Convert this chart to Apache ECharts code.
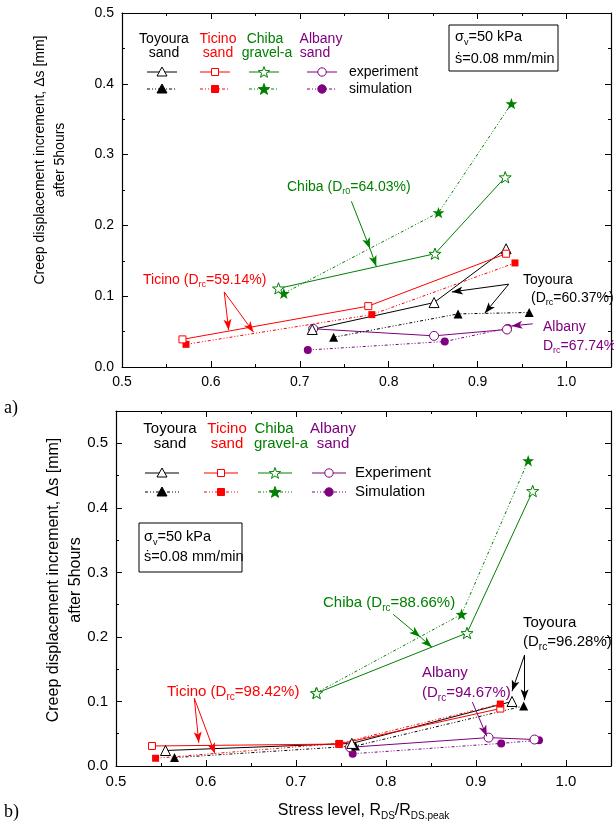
<!DOCTYPE html>
<html>
<head>
<meta charset="utf-8">
<script src="https://cdn.jsdelivr.net/npm/echarts@6/dist/echarts.min.js"></script>
<style>
html, body { margin: 0; padding: 0; background: #fff; }
#chart { width: 614px; height: 825px; }
</style>
</head>
<body>
<div id="chart"></div>
<script>
// (a) creep increment after 5 h, loose states  [stress level, delta s (mm)]
var toyA_exp = [[0.714, 0.053], [0.851, 0.091], [0.932, 0.167]];
var toyA_sim = [[0.738, 0.042], [0.878, 0.075], [0.958, 0.077]];
var ticA_exp = [[0.568, 0.039], [0.777, 0.086], [0.932, 0.160]];
var ticA_sim = [[0.572, 0.032], [0.781, 0.074], [0.942, 0.147]];
var chiA_exp = [[0.676, 0.111], [0.852, 0.160], [0.931, 0.268]];
var chiA_sim = [[0.682, 0.104], [0.856, 0.218], [0.938, 0.372]];
var albA_exp = [[0.715, 0.054], [0.851, 0.044], [0.933, 0.053]];
var albA_sim = [[0.709, 0.024], [0.863, 0.036], [0.934, 0.055]];

// (b) dense states
var toyB_exp = [[0.555, 0.024], [0.762, 0.035], [0.940, 0.100]];
var toyB_sim = [[0.565, 0.013], [0.766, 0.031], [0.953, 0.093]];
var ticB_exp = [[0.540, 0.031], [0.748, 0.034], [0.927, 0.089]];
var ticB_sim = [[0.544, 0.012], [0.748, 0.035], [0.927, 0.096]];
var chiB_exp = [[0.723, 0.113], [0.890, 0.206], [0.963, 0.426]];
var chiB_sim = [[0.722, 0.113], [0.884, 0.235], [0.958, 0.473]];
var albB_exp = [[0.760, 0.029], [0.914, 0.044], [0.965, 0.041]];
var albB_sim = [[0.763, 0.019], [0.928, 0.035], [0.970, 0.040]];

var FONT = "'Liberation Sans', Arial, sans-serif";
var BLACK = '#000', RED = '#ff0000', GREEN = '#008000', PURPLE = '#800080';
var SIM_DASH = [3, 2, 1, 2, 1, 2];

function starPoints(cx, cy, r) {
    var p = [];
    for (var i = 0; i < 10; i++) {
        var rr = i % 2 ? r * 0.4 : r;
        var a = -Math.PI / 2 + i * Math.PI / 5;
        p.push([cx + rr * Math.cos(a), cy + rr * Math.sin(a)]);
    }
    return p;
}
var STAR = 'path://M' + starPoints(50, 50, 50).map(function (q) {
    return q[0].toFixed(1) + ',' + q[1].toFixed(1);
}).join('L') + 'Z';

function fmt(v) {
    return Math.abs(v * 10 - Math.round(v * 10)) < 1e-6 ? v.toFixed(1) : '';
}

// 4 axes per dimension: major+minor ticks on both sides (box frame)
function axisSet(dim, g, min, max, fs) {
    var near = dim === 'x' ? 'bottom' : 'left', far = dim === 'x' ? 'top' : 'right';
    function one(pos, step, len, labels, line) {
        return {
            type: 'value', gridIndex: g, position: pos, min: min, max: max, interval: step,
            axisLine: { show: line, onZero: false, lineStyle: { color: BLACK, width: 1.2 } },
            axisTick: { show: true, inside: true, length: len, lineStyle: { color: BLACK, width: 1 } },
            axisLabel: { show: labels, color: BLACK, fontSize: fs, fontFamily: FONT, margin: 8, formatter: fmt },
            splitLine: { show: false }
        };
    }
    return [one(near, 0.1, 6, true, true), one(near, 0.05, 3, false, false),
            one(far, 0.1, 6, false, true), one(far, 0.05, 3, false, false)];
}

var xAxes = axisSet('x', 0, 0.5, 1.05, 14).concat(axisSet('x', 1, 0.5, 1.05, 15));
var yAxes = axisSet('y', 0, 0, 0.5, 14).concat(axisSet('y', 1, 0, 0.55, 15));
xAxes[4].name = 'Stress level, R{s|DS}/R{s|DS.peak}';
xAxes[4].nameLocation = 'middle';
xAxes[4].nameGap = 35;
xAxes[4].nameTextStyle = {
    color: BLACK, fontSize: 16, fontFamily: FONT, lineHeight: 20,
    rich: { s: { fontSize: 10, fontFamily: FONT, color: BLACK, verticalAlign: 'bottom', lineHeight: 10 } }
};

function expS(data, color, symbol, size, g) {
    return {
        type: 'line', data: data, xAxisIndex: g * 4, yAxisIndex: g * 4,
        symbol: symbol, symbolSize: size, symbolKeepAspect: true, showSymbol: true,
        lineStyle: { color: color, width: 1 },
        itemStyle: { color: '#fff', borderColor: color, borderWidth: 1 },
        z: 3
    };
}
function simS(data, color, symbol, size, g) {
    return {
        type: 'line', data: data, xAxisIndex: g * 4, yAxisIndex: g * 4,
        symbol: symbol, symbolSize: size, symbolKeepAspect: true, showSymbol: true,
        lineStyle: { color: color, width: 1, type: SIM_DASH },
        itemStyle: { color: color },
        z: 3
    };
}
function arrows(s, color, pairs) {
    s.markLine = {
        silent: true, animation: false,
        symbol: ['none', 'arrow'], symbolSize: [6, 11],
        label: { show: false },
        lineStyle: { color: color, width: 1, type: 'solid' },
        data: pairs.map(function (p) { return [{ coord: p[0] }, { coord: p[1] }]; })
    };
    return s;
}

var series = [
    simS(albA_sim, PURPLE, 'circle', 8, 0),
    arrows(expS(albA_exp, PURPLE, 'circle', 9, 0), PURPLE, [[[0.962, 0.061], [0.938, 0.058]]]),
    simS(chiA_sim, GREEN, STAR, 12, 0),
    arrows(expS(chiA_exp, GREEN, STAR, 12, 0), GREEN, [[[0.758, 0.234], [0.779, 0.167]], [[0.779, 0.167], [0.786, 0.142]]]),
    simS(toyA_sim, BLACK, 'triangle', 9, 0),
    arrows(expS(toyA_exp, BLACK, 'triangle', 10, 0), BLACK, [[[0.935, 0.117], [0.871, 0.106]], [[0.935, 0.117], [0.908, 0.076]]]),
    simS(ticA_sim, RED, 'rect', 7, 0),
    arrows(expS(ticA_exp, RED, 'rect', 7, 0), RED, [[[0.615, 0.106], [0.620, 0.052]], [[0.615, 0.106], [0.648, 0.049]]]),

    simS(albB_sim, PURPLE, 'circle', 8, 1),
    arrows(expS(albB_exp, PURPLE, 'circle', 9, 1), PURPLE, [[[0.896, 0.099], [0.912, 0.046]]]),
    simS(chiB_sim, GREEN, STAR, 12, 1),
    arrows(expS(chiB_exp, GREEN, STAR, 12, 1), GREEN, [[[0.808, 0.235], [0.838, 0.200]], [[0.838, 0.200], [0.851, 0.184]]]),
    simS(toyB_sim, BLACK, 'triangle', 9, 1),
    arrows(expS(toyB_exp, BLACK, 'triangle', 10, 1), BLACK, [[[0.954, 0.172], [0.940, 0.116]], [[0.954, 0.172], [0.954, 0.102]]]),
    expS(ticB_exp, RED, 'rect', 7, 1),
    arrows(simS(ticB_sim, RED, 'rect', 7, 1), RED, [[[0.587, 0.105], [0.592, 0.036]], [[0.587, 0.105], [0.610, 0.019]]])
];

// ---- text / legend graphics
function txt(s, x, y, color, fs, opt) {
    opt = opt || {};
    return {
        type: 'text', x: x, y: y, rotation: opt.rot || 0, silent: true, z: 10,
        style: {
            text: s, fill: color, font: fs + 'px ' + (opt.family || FONT),
            align: opt.align || 'left', verticalAlign: 'middle', lineHeight: fs + 5,
            rich: { s: { fontSize: Math.round(fs * 0.65), fontFamily: FONT, fill: color, verticalAlign: 'bottom', lineHeight: Math.round(fs * 0.65) } }
        }
    };
}
function sym(shape, x, y, color, filled) {
    var st = { fill: filled ? color : '#fff', stroke: color, lineWidth: 1 };
    if (shape === 'triangle') return { type: 'polygon', z: 10, shape: { points: [[x, y - 5], [x + 5, y + 4], [x - 5, y + 4]] }, style: st };
    if (shape === 'rect') return { type: 'rect', z: 10, shape: { x: x - 3.5, y: y - 3.5, width: 7, height: 7 }, style: st };
    if (shape === 'star') return { type: 'polygon', z: 10, shape: { points: starPoints(x, y + 0.5, 6) }, style: st };
    return { type: 'circle', z: 10, shape: { cx: x, cy: y, r: 4.2 }, style: st };
}
function seg(x1, x2, y, color, dash) {
    return { type: 'line', z: 9, shape: { x1: x1, y1: y, x2: x2, y2: y }, style: { stroke: color, lineWidth: 1, lineDash: dash || null } };
}
function legend(cols, rowY, half, fs, labelX, labels) {
    var g = [];
    cols.forEach(function (c) {
        g.push(txt(c.h1, c.hx, c.hy, c.color, fs, { align: 'center' }));
        g.push(txt(c.h2, c.hx2 || c.hx, c.hy + fs * 1.0, c.color, fs, { align: 'center' }));
        g.push(seg(c.x - half, c.x + half, rowY[0], c.color));
        g.push(sym(c.shape, c.x, rowY[0], c.color, false));
        g.push(seg(c.x - half, c.x + half, rowY[1], c.color, SIM_DASH));
        g.push(sym(c.shape, c.x, rowY[1], c.color, true));
    });
    g.push(txt(labels[0], labelX, rowY[0], BLACK, fs));
    g.push(txt(labels[1], labelX, rowY[1], BLACK, fs));
    return g;
}

var graphics = [];
graphics = graphics.concat(legend([
    { h1: 'Toyoura', h2: 'sand', hx: 164, hy: 39, x: 162, color: BLACK, shape: 'triangle' },
    { h1: 'Ticino', h2: 'sand', hx: 218, hy: 39, x: 215, color: RED, shape: 'rect' },
    { h1: 'Chiba', h2: 'gravel-a', hx: 265, hx2: 267, hy: 39, x: 264, color: GREEN, shape: 'star' },
    { h1: 'Albany', h2: 'sand', hx: 321, hx2: 315, hy: 39, x: 322, color: PURPLE, shape: 'circle' }
], [72, 89], 15, 14, 349, ['experiment', 'simulation']));
graphics = graphics.concat(legend([
    { h1: 'Toyoura', h2: 'sand', hx: 170, hy: 429, x: 162, color: BLACK, shape: 'triangle' },
    { h1: 'Ticino', h2: 'sand', hx: 227, hy: 429, x: 221, color: RED, shape: 'rect' },
    { h1: 'Chiba', h2: 'gravel-a', hx: 274, hx2: 281, hy: 429, x: 275, color: GREEN, shape: 'star' },
    { h1: 'Albany', h2: 'sand', hx: 333, hy: 429, x: 329, color: PURPLE, shape: 'circle' }
], [473, 492], 17, 15, 355, ['Experiment', 'Simulation']));

// info boxes
graphics.push({ type: 'rect', z: 9, shape: { x: 449, y: 25, width: 109, height: 46 }, style: { fill: '#fff', stroke: BLACK, lineWidth: 1 } });
graphics.push(txt('σ{s|v}=50 kPa', 455, 37, BLACK, 14.5));
graphics.push(txt('\u1E61=0.08 mm/min', 455, 59, BLACK, 14.5));
graphics.push({ type: 'rect', z: 9, shape: { x: 139, y: 523, width: 103, height: 49 }, style: { fill: '#fff', stroke: BLACK, lineWidth: 1 } });
graphics.push(txt('σ{s|v}=50 kPa', 144, 537, BLACK, 14.5));
graphics.push(txt('\u1E61=0.08 mm/min', 144, 557, BLACK, 14.5));

// annotations (a)
graphics.push(txt('Chiba (D{s|r0}=64.03%)', 287, 187, GREEN, 14));
graphics.push(txt('Ticino (D{s|rc}=59.14%)', 143, 280, RED, 14));
graphics.push(txt('Toyoura', 523, 280, BLACK, 14));
graphics.push(txt('(D{s|rc}=60.37%)', 531, 298, BLACK, 14));
graphics.push(txt('Albany', 543, 327, PURPLE, 14));
graphics.push(txt('D{s|rc}=67.74%', 543, 346, PURPLE, 14));
// annotations (b)
graphics.push(txt('Chiba (D{s|rc}=88.66%)', 323, 603, GREEN, 15));
graphics.push(txt('Ticino (D{s|rc}=98.42%)', 167, 692, RED, 15));
graphics.push(txt('Albany', 422, 673, PURPLE, 15));
graphics.push(txt('(D{s|rc}=94.67%)', 422, 693, PURPLE, 15));
graphics.push(txt('Toyoura', 523, 623, BLACK, 15));
graphics.push(txt('(D{s|rc}=96.28%)', 523, 642, BLACK, 15));

// y-axis titles and panel letters
graphics.push(txt('Creep displacement increment, \u0394s [mm]', 40, 160, BLACK, 14, { align: 'center', rot: Math.PI / 2 }));
graphics.push(txt('after 5hours', 60, 160, BLACK, 14, { align: 'center', rot: Math.PI / 2 }));
graphics.push(txt('Creep displacement increment, \u0394s [mm]', 54, 580, BLACK, 16, { align: 'center', rot: Math.PI / 2 }));
graphics.push(txt('after 5hours', 76, 580, BLACK, 16, { align: 'center', rot: Math.PI / 2 }));
graphics.push(txt('a)', 4, 408, BLACK, 18, { family: "'Liberation Serif', 'Times New Roman', serif" }));
graphics.push(txt('b)', 4, 812, BLACK, 18, { family: "'Liberation Serif', 'Times New Roman', serif" }));

var chart = echarts.init(document.getElementById('chart'), null, { renderer: 'canvas' });
chart.setOption({
    animation: false,
    backgroundColor: '#fff',
    textStyle: { fontFamily: FONT },
    grid: [
        { left: 122, top: 13, width: 500, height: 354 },
        { left: 116, top: 411, width: 503, height: 355 }
    ],
    xAxis: xAxes,
    yAxis: yAxes,
    series: series,
    graphic: graphics
});
</script>
</body>
</html>
